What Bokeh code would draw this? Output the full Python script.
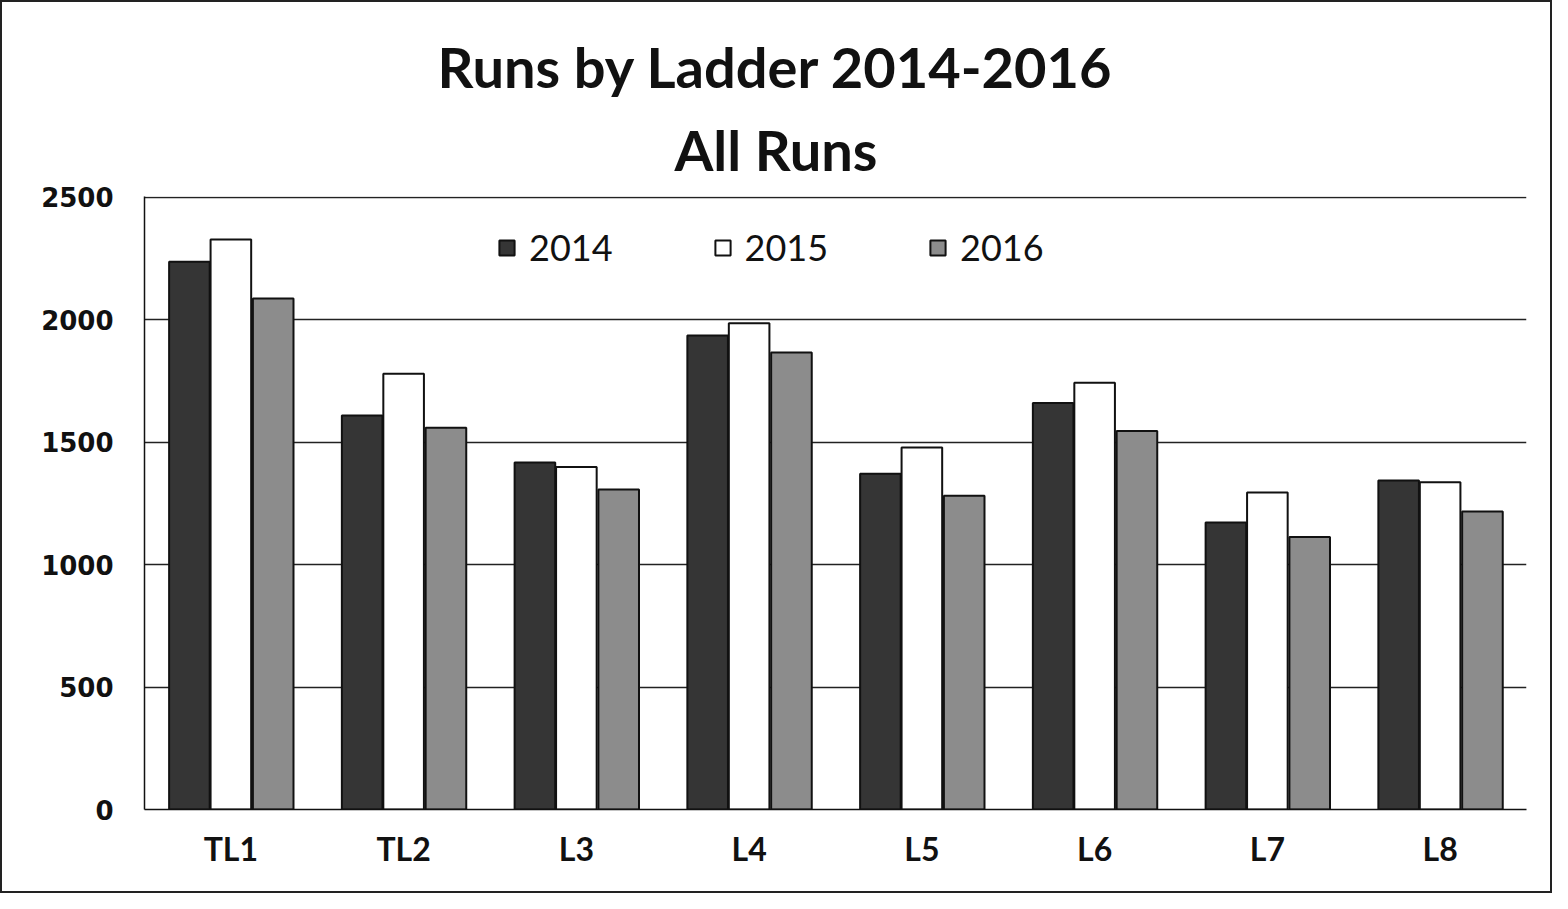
from bokeh.plotting import figure
from bokeh.models import (ColumnDataSource, FactorRange, Title, Legend, LegendItem,
                          FixedTicker, Range1d)
from bokeh.transform import dodge
from bokeh.embed import file_html
from bokeh.resources import INLINE

ladders = ["TL1", "TL2", "L3", "L4", "L5", "L6", "L7", "L8"]
years = ["2014", "2015", "2016"]
runs_2014 = [2237, 1609, 1417, 1935, 1371, 1660, 1172, 1343]
runs_2015 = [2327, 1779, 1398, 1985, 1478, 1743, 1294, 1336]
runs_2016 = [2087, 1559, 1307, 1866, 1281, 1546, 1113, 1217]
y_ticks = [0, 500, 1000, 1500, 2000, 2500]
title_main = "Runs by Ladder 2014-2016"
title_sub = "All Runs"

src = ColumnDataSource(dict(ladder=ladders, y2014=runs_2014, y2015=runs_2015, y2016=runs_2016))

p = figure(x_range=FactorRange(*ladders), y_range=Range1d(0, 2503),
           width=1552, height=893, output_backend="svg", toolbar_location=None,
           title=None, min_border_left=142, min_border_right=28,
           min_border_bottom=86, min_border_top=194)
p.background_fill_color = "white"
p.border_fill_color = "white"
p.outline_line_color = None

colors = ["#353535", "#ffffff", "#8c8c8c"]
offsets = [-0.24, 0.0, 0.245]
renderers = []
for yr, col, off in zip(years, colors, offsets):
    r = p.vbar(x=dodge("ladder", off, range=p.x_range), top="y" + yr, width=0.235,
               source=src, fill_color=col, line_color="#111111", line_width=2)
    renderers.append(r)

legend = Legend(items=[LegendItem(label=yr, renderers=[r]) for yr, r in zip(years, renderers)],
                orientation="horizontal", location=(353, 540))
legend.glyph_width = 19
legend.glyph_height = 19
legend.label_text_font = "Lato"
legend.label_text_font_size = "36px"
legend.label_text_color = "#111111"
legend.label_standoff = 13
legend.spacing = 100
legend.padding = 0
legend.margin = 0
legend.border_line_color = None
legend.background_fill_alpha = 0
p.add_layout(legend, "center")

p.yaxis.ticker = FixedTicker(ticks=y_ticks)
p.yaxis.major_label_text_font = "DejaVu Sans"
p.yaxis.major_label_text_font_style = "bold"
p.yaxis.major_label_text_font_size = "26px"
p.yaxis.major_label_text_color = "#111111"
p.yaxis.major_tick_line_color = None
p.yaxis.major_tick_out = 0
p.yaxis.major_tick_in = 0
p.yaxis.minor_tick_line_color = None
p.yaxis.axis_line_color = "#111111"
p.yaxis.axis_line_width = 1.5
p.yaxis.major_label_standoff = 31

p.xaxis.major_label_text_font = "Lato"
p.xaxis.major_label_text_font_style = "bold"
p.xaxis.major_label_text_font_size = "32px"
p.xaxis.major_label_text_color = "#111111"
p.xaxis.major_tick_line_color = None
p.xaxis.major_tick_out = 0
p.xaxis.major_tick_in = 0
p.xaxis.minor_tick_line_color = None
p.xaxis.axis_line_color = "#111111"
p.xaxis.axis_line_width = 1.5
p.xaxis.major_label_standoff = 19

p.xgrid.grid_line_color = None
p.ygrid.grid_line_color = "#222222"
p.ygrid.grid_line_width = 1.5

p.add_layout(Title(text=title_sub, align="left", offset=530, text_font="Lato",
                   text_font_style="bold", text_font_size="56px", text_color="#111111",
                   standoff=28), "above")
p.add_layout(Title(text=title_main, align="left", offset=293, text_font="Lato",
                   text_font_style="bold", text_font_size="56px", text_color="#111111",
                   standoff=0), "above")

p.styles = {"border": "2px solid #222222", "box-sizing": "border-box"}

open("out.html", "w").write(file_html(p, INLINE))
